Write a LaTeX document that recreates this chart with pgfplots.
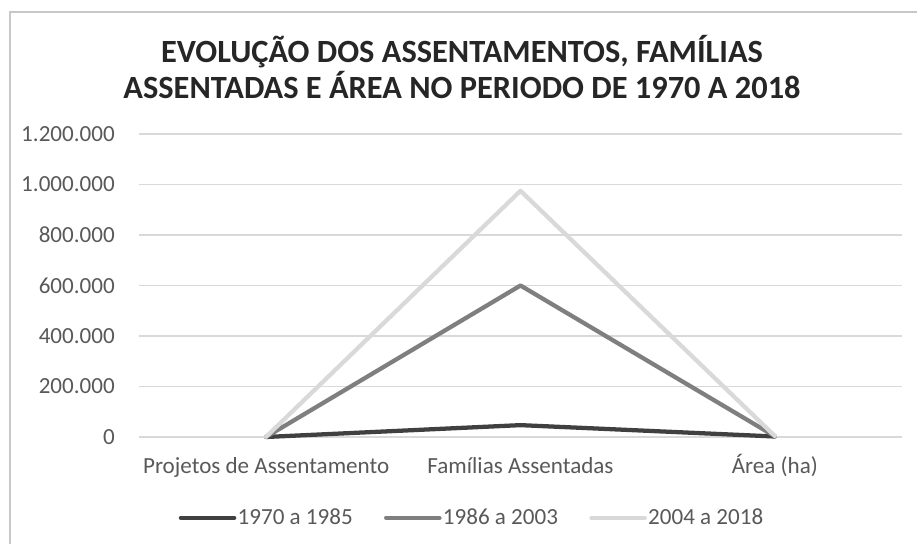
\documentclass[border=0pt]{standalone}
\usepackage{fontspec}
\setmainfont{Carlito}
\usepackage{pgfplots}
\pgfplotsset{compat=1.18}

\definecolor{serA}{HTML}{404040}
\definecolor{serB}{HTML}{7F7F7F}
\definecolor{serC}{HTML}{D9D9D9}
\definecolor{txt}{HTML}{595959}
\definecolor{grd}{HTML}{D9D9D9}
\definecolor{frame}{HTML}{C8C8C8}

\begin{document}
\begin{tikzpicture}
% page = 917 x 543 px, 1px = 0.75pt -> 687.75pt x 407.25pt
\begin{axis}[
  at={(104.25pt,79.5pt)}, anchor=south west,
  scale only axis, width=572.25pt, height=227.25pt,
  xmin=-0.5, xmax=2.5, ymin=0, ymax=1200000,
  xtick={0,1,2},
  xticklabels={Projetos de Assentamento, Famílias Assentadas, Área (ha)},
  ytick={0,200000,400000,600000,800000,1000000,1200000},
  yticklabels={0,200.000,400.000,600.000,800.000,1.000.000,1.200.000},
  scaled y ticks=false,
  axis line style={draw=none},
  major tick length=0pt,
  ymajorgrids, grid style={grd, line width=1.1pt},
  tick label style={font=\fontsize{17.3}{19}\selectfont, text=txt},
  xticklabel style={anchor=base, yshift=-27.5pt},
  yticklabel style={anchor=east, inner sep=0pt, xshift=-18pt},
  legend columns=3,
  legend style={draw=none, fill=none, at={(0.436,-0.267)}, anchor=center,
    font=\fontsize{17.3}{19}\selectfont, text=txt,
    nodes={inner sep=1pt},
    /tikz/every even column/.append style={column sep=22.5pt}},
  legend cell align=left,
  legend image code/.code={\draw[#1, line cap=round] (0pt,0pt) -- (40pt,0pt);},
  every axis plot/.append style={line width=3.2pt, line join=round, line cap=round},
  clip=false,
]
\addplot[serA] coordinates {(0,70) (1,47000) (2,2000)};
\addplot[serB] coordinates {(0,600) (1,600000) (2,3000)};
\addplot[serC] coordinates {(0,1000) (1,975000) (2,4000)};
\legend{1970 a 1985, 1986 a 2003, 2004 a 2018}
\end{axis}

\node[font=\bfseries\fontsize{24.3}{26.5}\selectfont, text=black!85, align=center]
  at (346.5pt,357pt) {EVOLUÇÃO DOS ASSENTAMENTOS, FAMÍLIAS\\ASSENTADAS E ÁREA NO PERIODO DE 1970 A 2018};
\draw[frame, line width=1.5pt] (7.5pt,-15pt) -- (7.5pt,398.6pt) -- (705pt,398.6pt);

\pgfresetboundingbox
\useasboundingbox (0pt,0pt) rectangle (687.75pt,407.25pt);
\end{tikzpicture}
\end{document}
